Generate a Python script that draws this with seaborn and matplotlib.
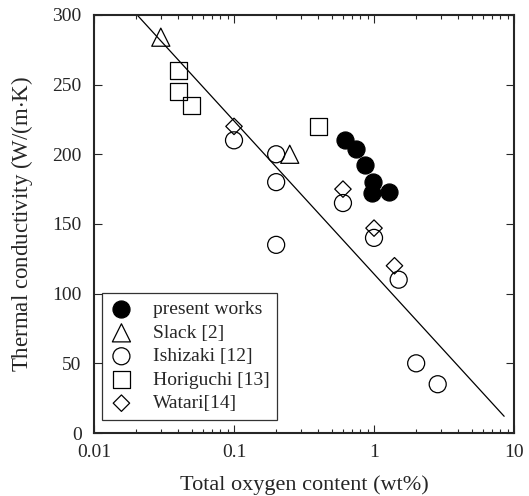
import matplotlib
matplotlib.use("Agg")
import matplotlib.pyplot as plt
import numpy as np
import pandas as pd
import seaborn as sns

# data
present_x = [0.62, 0.74, 0.86, 0.99, 0.96, 1.27]
present_y = [210, 204, 192, 180, 172, 173]

slack_x = [0.03, 0.25]
slack_y = [284, 200]

ishizaki_x = [0.1, 0.2, 0.2, 0.2, 0.6, 1.0, 1.5, 2.0, 2.85]
ishizaki_y = [210, 200, 180, 135, 165, 140, 110, 50, 35]

horiguchi_x = [0.04, 0.04, 0.05, 0.4]
horiguchi_y = [260, 245, 235, 220]

watari_x = [0.1, 0.6, 1.0, 1.4]
watari_y = [220, 175, 147, 120]

fit_x = [0.0203, 8.5]
fit_y = [300, 12]

sns.set_style("ticks")
plt.rcParams['font.family'] = ['Liberation Serif', 'DejaVu Serif']
plt.rcParams['mathtext.fontset'] = 'stix'

fig = plt.figure(figsize=(5.29, 4.96), dpi=100)
ax = fig.add_axes([0.1777, 0.127, 0.794, 0.843])

series = [
    ("present works", present_x, present_y, "o", "black"),
    ("Slack [2]", slack_x, slack_y, "^", "none"),
    ("Ishizaki [12]", ishizaki_x, ishizaki_y, "o", "none"),
    ("Horiguchi [13]", horiguchi_x, horiguchi_y, "s", "none"),
    ("Watari[14]", watari_x, watari_y, "D", "none"),
]
sizes = {"o": 150, "^": 170, "s": 150, "D": 70}

sns.lineplot(x=fit_x, y=fit_y, ax=ax, color="black", linewidth=0.9)

for name, xs, ys, mk, fc in series:
    df = pd.DataFrame({"x": xs, "y": ys})
    sns.scatterplot(data=df, x="x", y="y", ax=ax, marker=mk, s=sizes[mk],
                    facecolor=fc, edgecolor="black", linewidth=0.9,
                    label=name, zorder=3)

ax.set_xscale("log")
ax.set_xlim(0.01, 10)
ax.set_ylim(0, 300)
ax.set_yticks([0, 50, 100, 150, 200, 250, 300])
ax.set_xticks([0.01, 0.1, 1, 10])
ax.set_xticklabels(["0.01", "0.1", "1", "10"])

ax.tick_params(which="both", direction="in", top=True, right=True, labelsize=14, width=0.8)
ax.tick_params(which="major", length=6)
ax.tick_params(which="minor", length=3)
ax.tick_params(axis="x", pad=8)
ax.tick_params(axis="y", pad=9)
for sp in ax.spines.values():
    sp.set_linewidth(1.5)
    sp.set_visible(True)

ax.set_xlabel("Total oxygen content (wt%)", fontsize=16, labelpad=10)
ax.set_ylabel("Thermal conductivity (W/(m$\\cdot$K)", fontsize=16.5, labelpad=12)

leg = ax.legend(loc="lower left", bbox_to_anchor=(0.019, 0.031), borderaxespad=0,
                fontsize=14, frameon=True, fancybox=False, edgecolor="black",
                handletextpad=1.0, labelspacing=0.3, borderpad=0.4, handlelength=1.2)
leg.get_frame().set_linewidth(0.9)

fig.savefig("out.png", dpi=100)
